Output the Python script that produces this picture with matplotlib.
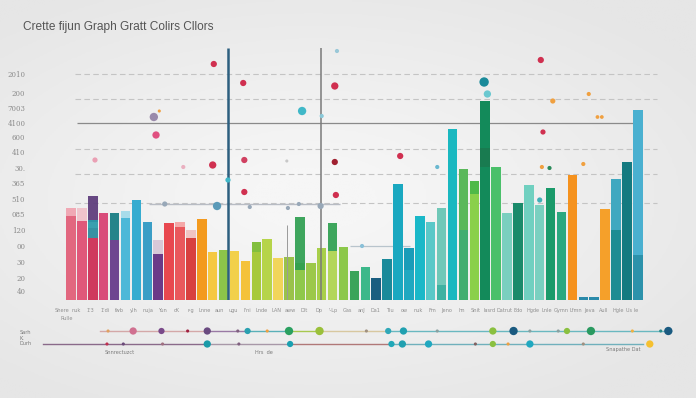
import numpy as np
import matplotlib
matplotlib.use("Agg")
import matplotlib.pyplot as plt

# ---------------- data ----------------
title = "Crette fijun Graph Gratt Colirs Cllors"

bar_values = [84, 79, 72, 87, 87, 82, 100, 78, 46, 77, 73, 62, 81, 48, 50, 49, 39, 58, 61, 42,
              43, 37, 37, 52, 49, 53, 29, 33, 22, 41, 116, 52, 84, 78, 92, 171, 131, 119, 199, 133,
              87, 97, 115, 95, 112, 88, 125, 3, 3, 91, 121, 138, 190]
bar_colors = ["#e2677f", "#e0587a", "#cf3a5e", "#d94c7a", "#6e4590", "#4db8d8", "#36acd0", "#3a9ec6",
              "#6b3a88", "#e8484f", "#e9585c", "#d8403f", "#f39a1e", "#f5c842", "#8cc44a", "#f2d04a",
              "#f4c23a", "#a7c93c", "#b6d44a", "#f1d55a", "#9ac24a", "#8fc84b", "#9cc84a", "#a8cf4a",
              "#b3d65a", "#8cc84a", "#3aa45a", "#3cb88a", "#1a5e80", "#1a8a9a", "#1aa8c0", "#20a8c0",
              "#1ab8c8", "#5ac8c8", "#70c8b8", "#1ab8c0", "#5ab85a", "#8ad04a", "#138a5a", "#4ac06a",
              "#7acfbf", "#1a8a6a", "#70d0c0", "#7ad0c0", "#1a9a6a", "#2aa880", "#f5921e", "#2a8aaa",
              "#2a8aaa", "#f5a02a", "#40a8c0", "#147a80", "#4ab0d0"]
# pale extensions above some bars (index, top)
cap_idx = [0, 1, 5, 8, 10, 11]
cap_top = [92, 92, 89, 60, 78, 70]
cap_col = ["#f0a8b4", "#f0c4cc", "#a8dcea", "#d8c8d8", "#f4a8a8", "#f0c4c4"]
# overlay segments (index, bottom, top, colour)
ov_idx = [2, 2, 4, 17, 21, 24, 34, 36, 37, 38, 50, 52, 31]
ov_bot = [78, 62, 60, 48, 30, 49, 0, 0, 106, 133, 0, 0, 30]
ov_top = [104, 80, 87, 58, 83, 77, 15, 70, 119, 152, 70, 45, 52]
ov_col = ["#5b3a7a", "#2a9aaa", "#1f8a8a", "#7fbf3f", "#2e9e50", "#2ea050", "#3ab0a0", "#3fae72",
          "#4ab848", "#1a7a50", "#1a8a90", "#2a90a8", "#1a9cb8"]

ytick_pos = [226, 207, 192, 177, 163, 148, 132, 117, 101, 86, 70, 54, 38, 22, 9]
ytick_labels = ["2010", "200", "7003", "4100", "600", "410", "30.", "365", "510", "085",
                "120", "00", "30", "20", "40"]

grid_y = [226, 201, 151, 126, 97]
dark_grid_y = 177

xtick_labels = ["Shere", "nuk", "1'3", "1'di", "fwb", "ylh", "nuja", "Yun", "cK", "r-g", "Lnne",
                "aun", "ugu", "l'ni", "Lnde", "LAN", "aww", "Dlt", "Dp", "'-Lp", "Gas", "anJ",
                "Da1", "Tlu", "ow", "nuk", "Fm", "Jeno", "hn", "Snit", "lasrd", "Datrut", "Edo",
                "Hgde", "Lnle", "Gymn", "Lfmn", "Jeva", "Aull", "Hgle", "Us le"]

dot_x = [13.1, 15.8, 24.2, 8.1, 7.6, 21.2, 23.0, 7.8, 2.2, 10.3, 13.0, 15.9, 24.2, 14.4, 15.9,
         24.3, 24.4, 19.8, 43.1, 37.9, 38.2, 44.2, 47.5, 48.3, 48.7, 43.3, 30.2, 33.6, 43.2,
         43.9, 47.0, 43.0, 26.7, 8.6, 13.4, 16.4, 19.9, 20.9, 22.9]
dot_y = [236, 217, 214, 189, 183, 189, 184, 165, 140, 133, 135, 140, 138, 120, 108,
         105, 249, 139, 240, 218, 206, 199, 206, 183, 183, 168, 144, 133, 133,
         132, 136, 100, 54, 96, 94, 93, 92, 96, 94]
dot_r = [3, 3, 3.5, 1.5, 4, 4, 2, 3.5, 2.5, 2, 3.5, 3, 3, 2.5, 3,
         3, 2, 1.5, 3, 4.5, 3.5, 2.5, 2, 1.8, 1.8, 2.5, 3, 2, 2,
         2, 2, 2.5, 2, 2.5, 4, 2, 2, 2, 3]
dot_c = ["#d03050", "#d03050", "#d03050", "#f0a040", "#9a8aaa", "#40b8c8", "#8ac8d8", "#e05080",
         "#eaa0b4", "#eab0c0", "#d03050", "#d04060", "#a02030", "#40b8c8", "#d03050",
         "#d03050", "#9ac8d8", "#c8c8c8", "#d03050", "#1a8a9a", "#6ac8d0", "#f0a040", "#f0a040",
         "#f0a040", "#f0a040", "#d03050", "#d03050", "#6ab8d0", "#f0a040",
         "#2a8a5a", "#f0a040", "#40b0b8", "#8ac0d8", "#98a8b8", "#5a9ab8", "#98a8b8", "#98a8b8",
         "#98a8b8", "#98a8b8"]

vlines_x = [14.4, 22.9, 19.8]

tl1_x = [3.4, 5.7, 8.3, 10.7, 12.5, 15.3, 16.2, 18.0, 20.0, 22.8, 27.1, 29.1, 30.5, 33.6, 38.7,
         40.6, 42.1, 44.7, 45.5, 47.7, 51.5, 54.1, 54.8]
tl1_r = [1.5, 3.5, 3, 1.5, 3.5, 1.5, 3, 1.5, 4, 4, 1.5, 3, 3.5, 1.5, 3.5, 4, 1.5, 1.5, 3, 4, 1.5, 1.5, 4]
tl1_c = ["#e0a060", "#d07090", "#7a4a8a", "#a02040", "#6a4a80", "#806080", "#2aa0b0", "#f0a040",
         "#2aa060", "#9ac03a", "#a09080", "#30a8b8", "#20a0b0", "#8aa0a0", "#8ac040", "#1a5a80",
         "#8aa0a0", "#8aa0a0", "#8ac040", "#2a9a60", "#f0b040", "#2a8a8a", "#1a5a80"]
tl2_x = [3.3, 4.8, 8.4, 12.5, 15.4, 20.1, 29.4, 30.4, 32.8, 37.1, 38.7, 40.1, 42.1, 47.0, 53.1]
tl2_r = [1.5, 1.5, 1.5, 3.5, 1.5, 3, 3, 3.5, 3.5, 1.5, 3, 1.5, 3.5, 1.5, 3.5]
tl2_c = ["#c03050", "#6a4a7a", "#a07080", "#1a9aa8", "#806080", "#1aa0b0", "#20a8b8", "#20a0b0",
         "#20a8c0", "#806060", "#8ac040", "#f0a040", "#20a8c0", "#a09080", "#f5c030"]

# ---------------- figure ----------------
W, H = 696, 398
fig = plt.figure(figsize=(W / 100, H / 100), dpi=100)

# background vignette
bg = fig.add_axes([0, 0, 1, 1])
yy, xx = np.mgrid[0:1:200j, 0:1:350j]
rr = np.sqrt(((xx - 0.45) / 0.9) ** 2 + ((yy - 0.5) / 0.8) ** 2)
bg.imshow(rr, cmap=matplotlib.colors.LinearSegmentedColormap.from_list("bg", ["#f6f6f6", "#e6e6e6"]),
          aspect="auto", extent=[0, 1, 0, 1], vmin=0.1, vmax=0.75)
bg.axis("off")

x0px, step = 71.0, 10.9
ax_l, ax_r, ax_t, ax_b = 60, 660, 48, 300
ax = fig.add_axes([ax_l / W, 1 - ax_b / H, (ax_r - ax_l) / W, (ax_b - ax_t) / H])
ax.set_xlim((ax_l - x0px) / step, (ax_r - x0px) / step)
ax.set_ylim(0, ax_b - ax_t)
ax.patch.set_alpha(0)
for s in ax.spines.values():
    s.set_visible(False)

n = len(bar_values)
xs = np.arange(n)

# gridlines
gx0, gx1 = (75 - x0px) / step, (657 - x0px) / step
for gy in grid_y:
    ax.hlines(gy, gx0, gx1, colors="#c4c4c4", lw=0.8, linestyles=(0, (5, 3)), zorder=1)
ax.hlines(dark_grid_y, (77 - x0px) / step, (634 - x0px) / step, colors="#8a8a8a", lw=0.9, zorder=1)
ax.hlines(96, 7.2, 24.7, colors="#b8bcc4", lw=1.0, zorder=3)
ax.hlines(54, 25.6, 31.1, colors="#b8c4cc", lw=0.9, zorder=3)

# bars
ax.bar(np.array(cap_idx), cap_top, width=0.87, color=cap_col, zorder=2)
ax.bar(xs, bar_values, width=0.87, color=bar_colors, zorder=3)
ax.bar(np.array(ov_idx), np.array(ov_top) - np.array(ov_bot), bottom=ov_bot, width=0.87,
       color=ov_col, alpha=0.92, zorder=4)

# vertical lines
ax.vlines(vlines_x[0], 0, 252, colors="#2d5f7f", lw=1.8, zorder=5)
ax.vlines(vlines_x[1], 0, 252, colors="#7a7a7a", lw=1.1, zorder=5)
ax.vlines(vlines_x[2], 0, 75, colors="#9a9a9a", lw=0.7, zorder=5)

# dots
ax.scatter(dot_x, dot_y, s=(np.array(dot_r) * 1.5) ** 2, c=dot_c, zorder=6, linewidths=0)

# y ticks
ax.set_yticks(ytick_pos)
ax.set_yticklabels(ytick_labels, fontsize=5, color="#8a8a8a", family="DejaVu Serif")
ax.tick_params(axis="y", length=0, pad=25)

# x ticks
ax.set_xticks(np.linspace(-0.8, 51.5, len(xtick_labels)))
ax.set_xticklabels(xtick_labels, fontsize=3.6, color="#8f8f8f")
ax.tick_params(axis="x", length=0, pad=6)

# title
fig.text(23 / W, 1 - 27 / H, title, fontsize=8.6, color="#555555", va="center", ha="left",
         family="Liberation Sans")
fig.text(60 / W, 1 - 319 / H, "Rulle", fontsize=3.6, color="#8f8f8f", va="center")

# bottom timelines
tl = fig.add_axes([ax_l / W, 1 - 360 / H, (ax_r - ax_l) / W, 40 / H])
tl.set_xlim(ax.get_xlim())
tl.set_ylim(360, 320)
tl.axis("off")
seg1 = [(2.7, 12.5, "#d4a8a8"), (12.5, 16.2, "#9a7aa5"), (16.2, 20.0, "#5ab0b8"),
        (20.0, 22.8, "#a8c850"), (22.8, 29.0, "#d8c8a0"), (29.0, 55.0, "#6ab8c0")]
for a, b, c in seg1:
    tl.plot([a, b], [331, 331], color=c, lw=1.0, clip_on=False, zorder=1)
seg2 = [(-2.6, 12.5, "#8a6a8a"), (12.5, 20.0, "#a898a8"), (20.0, 29.4, "#b07878"),
        (29.4, 52.5, "#70b0bc")]
for a, b, c in seg2:
    tl.plot([a, b], [344, 344], color=c, lw=1.0, clip_on=False, zorder=1)
tl.scatter(tl1_x, [331] * len(tl1_x), s=(np.array(tl1_r) * 1.5) ** 2, c=tl1_c, zorder=3,
           clip_on=False, linewidths=0)
tl.scatter(tl2_x, [344] * len(tl2_x), s=(np.array(tl2_r) * 1.5) ** 2, c=tl2_c, zorder=3,
           clip_on=False, linewidths=0)

fig.text(20 / W, 1 - 338 / H, "Sarh\nK.\nDurh", fontsize=3.6, color="#7a7a7a", va="center",
         linespacing=1.1)
fig.text(105 / W, 1 - 352 / H, "Snnrectuzct", fontsize=3.6, color="#7a7a7a", va="center")
fig.text(255 / W, 1 - 352 / H, "Hrs  de", fontsize=3.6, color="#7a7a7a", va="center")
fig.text(606 / W, 1 - 350 / H, "Snapathe Dat", fontsize=3.6, color="#7a7a7a", va="center")

fig.savefig("out.png", dpi=100)
